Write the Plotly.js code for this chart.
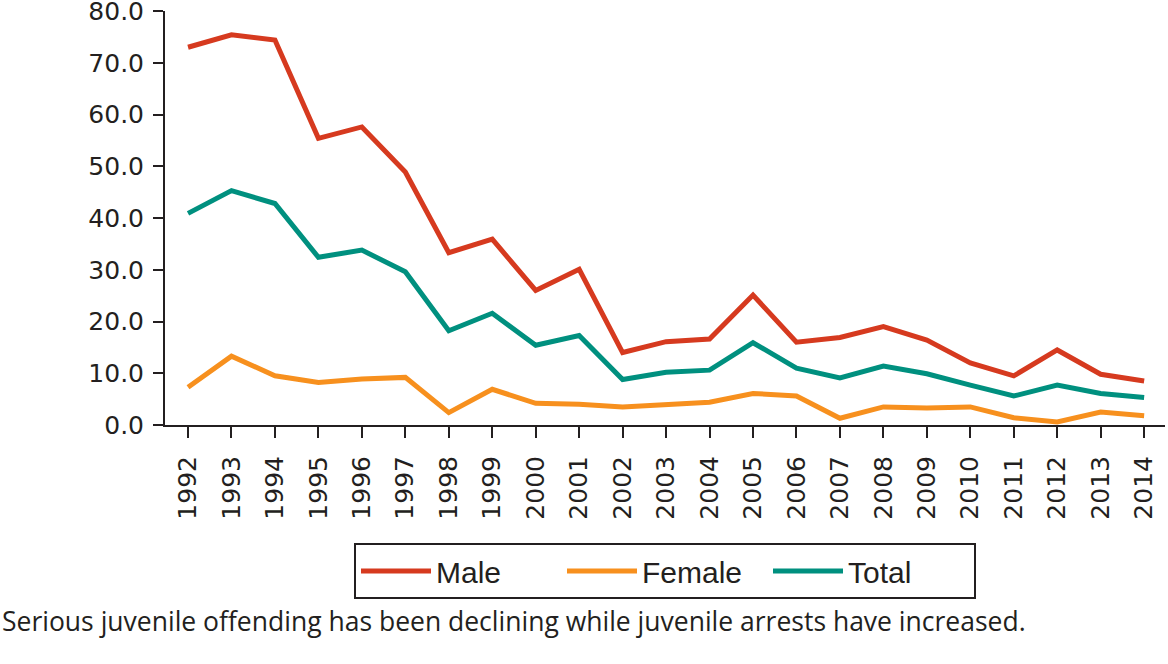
<!DOCTYPE html>
<html>
<head>
<meta charset="utf-8">
<script src="https://cdn.plot.ly/plotly-3.0.1.min.js"></script>
<style>
html,body{margin:0;padding:0;background:#fff;}
#chart{width:1168px;height:664px;}
</style>
</head>
<body>
<div id="chart"></div>
<script>
var years = [1992,1993,1994,1995,1996,1997,1998,1999,2000,2001,2002,2003,2004,2005,2006,2007,2008,2009,2010,2011,2012,2013,2014];
var male = [73.0,75.4,74.4,55.4,57.6,48.9,33.3,35.9,26.0,30.1,14.0,16.1,16.6,25.1,16.0,16.9,19.0,16.4,12.0,9.5,14.5,9.8,8.5];
var female = [7.3,13.3,9.5,8.2,8.9,9.2,2.4,6.9,4.2,4.0,3.5,3.9,4.4,6.1,5.6,1.3,3.5,3.3,3.5,1.4,0.6,2.5,1.8];
var total = [40.9,45.3,42.8,32.4,33.8,29.6,18.2,21.6,15.4,17.3,8.8,10.2,10.6,15.9,11.0,9.1,11.4,9.9,7.7,5.6,7.7,6.1,5.3];
var seriesNames = ["Male","Female","Total"];
var seriesColors = ["#D63A1F","#F7901E","#00907F"];
var yTickVals = [0,10,20,30,40,50,60,70,80];
var yTickText = ["0.0","10.0","20.0","30.0","40.0","50.0","60.0","70.0","80.0"];
var caption = "Serious juvenile offending has been declining while juvenile arrests have increased.";

var data = [male, female, total].map(function(v, i){
  return {
    x: years, y: v, type: "scatter", mode: "lines",
    name: seriesNames[i],
    line: {color: seriesColors[i], width: 5, shape: "linear"}
  };
});

var tickFont = {family: "DejaVu Sans, Liberation Sans, Arial, sans-serif", size: 25, color: "#231f20"};

var layout = {
  width: 1168, height: 664,
  margin: {l: 165, r: 3, t: 11, b: 239, pad: 0},
  paper_bgcolor: "#ffffff", plot_bgcolor: "#ffffff",
  showlegend: true,
  xaxis: {
    range: [1991.47, 2014.48],
    tickmode: "array", tickvals: years, ticktext: years.map(String),
    tickangle: -90, ticks: "outside", ticklen: 11, tickwidth: 2, tickcolor: "#231f20",
    ticklabelstandoff: 8,
    showline: true, linecolor: "#231f20", linewidth: 2,
    showgrid: false, zeroline: false, tickfont: tickFont, fixedrange: true
  },
  yaxis: {
    range: [0, 80],
    tickmode: "array", tickvals: yTickVals, ticktext: yTickText,
    ticks: "outside", ticklen: 10, tickwidth: 2, tickcolor: "#231f20",
    ticklabelstandoff: 4, ticklabeloverflow: "allow",
    showline: true, linecolor: "#231f20", linewidth: 2,
    showgrid: false, zeroline: false, tickfont: tickFont, fixedrange: true
  },
  legend: {
    orientation: "h",
    x: 0.189, xanchor: "left",
    y: -0.285, yanchor: "top",
    bordercolor: "#231f20", borderwidth: 2,
    bgcolor: "#ffffff",
    font: {family: "Liberation Sans, Arial, sans-serif", size: 30, color: "#231f20"},
    itemwidth: 70,
    entrywidth: 121,
    traceorder: "normal"
  },
  annotations: [{
    xref: "paper", yref: "paper",
    x: -0.165, xanchor: "left",
    y: -0.474, yanchor: "middle",
    text: caption, showarrow: false,
    font: {family: "Open Sans, Noto Sans, sans-serif", size: 26.5, color: "#231f20"}
  }]
};

Plotly.newPlot("chart", data, layout, {displayModeBar: false, staticPlot: true});
</script>
</body>
</html>
